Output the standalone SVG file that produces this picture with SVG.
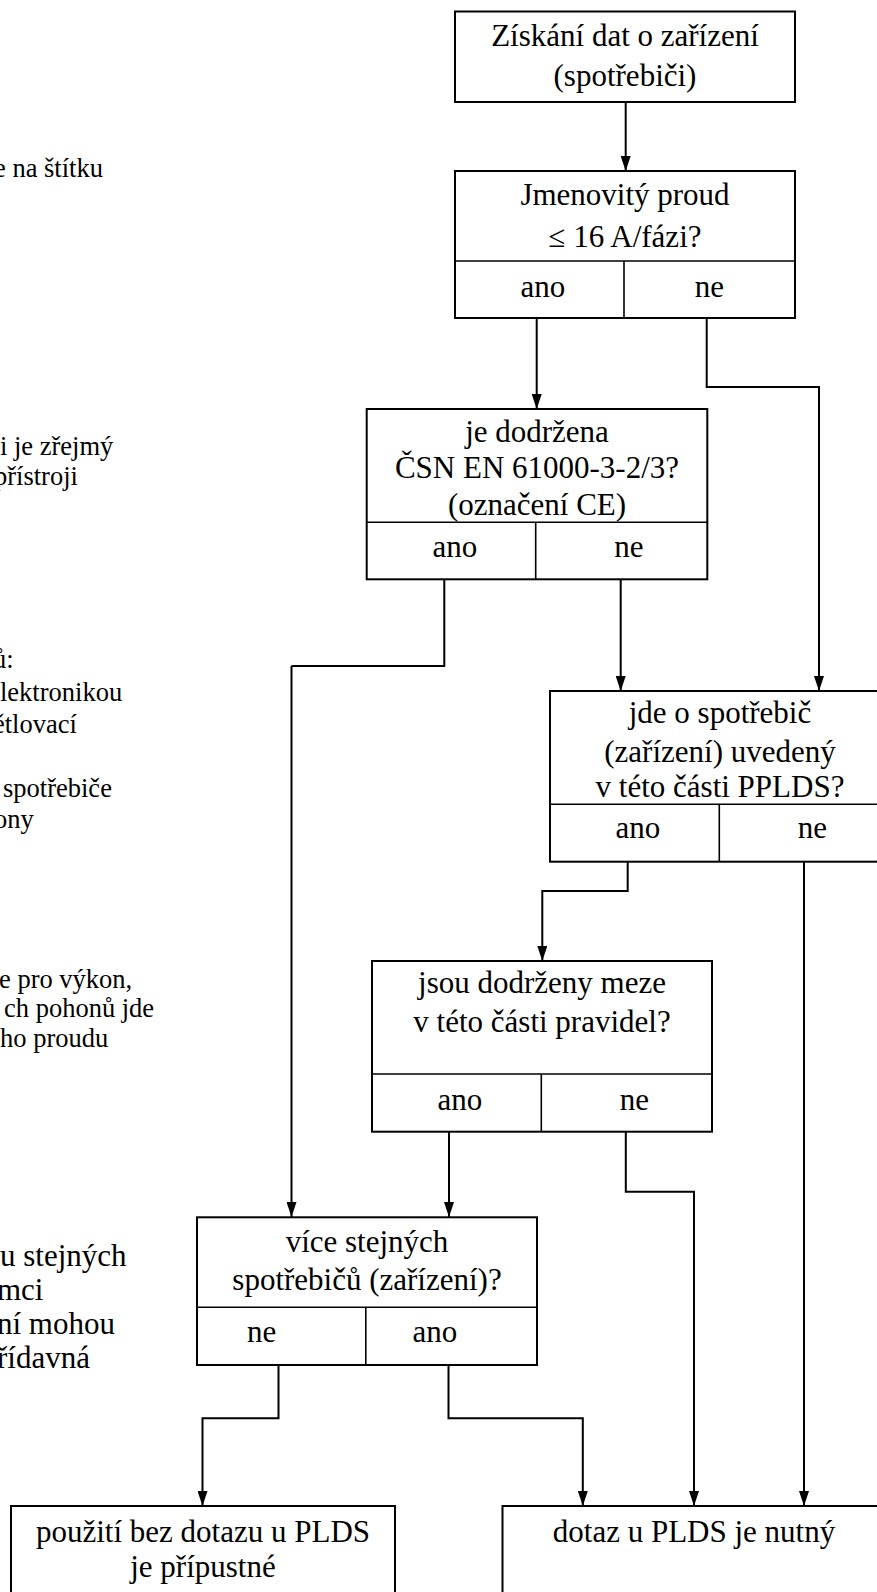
<svg xmlns="http://www.w3.org/2000/svg" width="877" height="1592" viewBox="0 0 877 1592">
<defs>
<marker id="ah" markerUnits="userSpaceOnUse" markerWidth="15" markerHeight="10" viewBox="0 0 15 10" refX="15" refY="5" orient="auto">
<path d="M0,0 L15,5 L0,10 Z" fill="#000"/>
</marker>
<style>
.box{fill:#fff;stroke:#000;stroke-width:2}
.div{fill:none;stroke:#000;stroke-width:1.6}
.t{font-family:"Liberation Serif","Times New Roman",serif;font-size:31px;fill:#000;text-anchor:middle}
.s{font-family:"Liberation Serif","Times New Roman",serif;font-size:26.5px;fill:#000}
.l{font-family:"Liberation Serif","Times New Roman",serif;font-size:31px;fill:#000}
.c{fill:none;stroke:#000;stroke-width:2}
.ca{fill:none;stroke:#000;stroke-width:2;marker-end:url(#ah)}
</style>
</defs>
<rect width="877" height="1592" fill="#fff"/>

<g id="side-text">
<text class="s" x="-6" y="177">e na štítku</text>
<text class="s" x="0" y="455">i je zřejmý</text>
<text class="s" x="-6" y="485">přístroji</text>
<text class="s" x="-7" y="668">ů:</text>
<text class="s" x="0" y="701">lektronikou</text>
<text class="s" x="-7" y="733">ětlovací</text>
<text class="s" x="3" y="797">spotřebiče</text>
<text class="s" x="-6" y="828">ony</text>
<text class="s" x="-1" y="988">e pro výkon,</text>
<text class="s" x="4" y="1017">ch pohonů jde</text>
<text class="s" x="0" y="1047">ho proudu</text>
<text class="l" x="0" y="1266">u stejných</text>
<text class="l" x="-3" y="1300">mci</text>
<text class="l" x="-3" y="1334">ní mohou</text>
<text class="l" x="-3" y="1368">řídavná</text>
</g>

<g id="connectors">
<path class="ca" d="M625.7,102 V171"/>
<path class="ca" d="M536.7,318 V409"/>
<path class="ca" d="M706.7,318 V387 H819 V691"/>
<path class="c" d="M444.3,579 V666 H291.5"/>
<path class="ca" d="M291.5,666 V1217"/>
<path class="ca" d="M620.7,579 V691"/>
<path class="ca" d="M627.7,862 V891 H542.3 V961"/>
<path class="ca" d="M804,862 V1506"/>
<path class="ca" d="M449,1132 V1217"/>
<path class="ca" d="M625.8,1132 V1191.7 H694 V1506"/>
<path class="ca" d="M278.5,1365 V1418.3 H202.5 V1506"/>
<path class="ca" d="M448.5,1365 V1418.3 H582.8 V1506"/>
</g>

<g id="n1">
<rect class="box" x="455" y="11.5" width="340" height="90.5"/>
<text class="t" x="625" y="46">Získání dat o zařízení</text>
<text class="t" x="625" y="86">(spotřebiči)</text>
</g>

<g id="n2">
<rect class="box" x="455" y="171" width="340" height="147"/>
<path class="div" d="M455,261 H795 M624,261 V318"/>
<text class="t" x="625" y="205">Jmenovitý proud</text>
<text class="t" x="625" y="247">≤ 16 A/fázi?</text>
<text class="t" x="543" y="297">ano</text>
<text class="t" x="709.5" y="297">ne</text>
</g>

<g id="n3">
<rect class="box" x="366.7" y="409" width="340.6" height="170.3"/>
<path class="div" d="M366.7,522.3 H707.3 M535.7,522.3 V579.3"/>
<text class="t" x="537" y="441.5">je dodržena</text>
<text class="t" x="537" y="478">ČSN EN 61000-3-2/3?</text>
<text class="t" x="537" y="515">(označení CE)</text>
<text class="t" x="455" y="556.7">ano</text>
<text class="t" x="629" y="556.7">ne</text>
</g>

<g id="n4">
<rect class="box" x="550" y="691" width="340" height="170.7"/>
<path class="div" d="M550,804.3 H890 M719.3,804.3 V861.7"/>
<text class="t" x="720" y="723">jde o spotřebič</text>
<text class="t" x="720" y="761.5">(zařízení) uvedený</text>
<text class="t" x="720" y="797">v této části PPLDS?</text>
<text class="t" x="638" y="838">ano</text>
<text class="t" x="812.5" y="838">ne</text>
</g>

<g id="n5">
<rect class="box" x="372" y="961" width="340" height="170.7"/>
<path class="div" d="M372,1074 H712 M541.3,1074 V1131.7"/>
<text class="t" x="542" y="993">jsou dodrženy meze</text>
<text class="t" x="542" y="1031.5">v této části pravidel?</text>
<text class="t" x="460" y="1110">ano</text>
<text class="t" x="634.4" y="1110">ne</text>
</g>

<g id="n6">
<rect class="box" x="197" y="1217.3" width="340" height="147.7"/>
<path class="div" d="M197,1307.3 H537 M365.8,1307.3 V1365"/>
<text class="t" x="367" y="1251.5">více stejných</text>
<text class="t" x="367" y="1290">spotřebičů (zařízení)?</text>
<text class="t" x="261.7" y="1342">ne</text>
<text class="t" x="434.8" y="1342">ano</text>
</g>

<g id="n7">
<rect class="box" x="11" y="1506" width="384" height="100"/>
<text class="t" x="203" y="1542">použití bez dotazu u PLDS</text>
<text class="t" x="203" y="1577">je přípustné</text>
</g>

<g id="n8">
<rect class="box" x="502.5" y="1506" width="384" height="100"/>
<text class="t" x="694" y="1542">dotaz u PLDS je nutný</text>
</g>
</svg>
